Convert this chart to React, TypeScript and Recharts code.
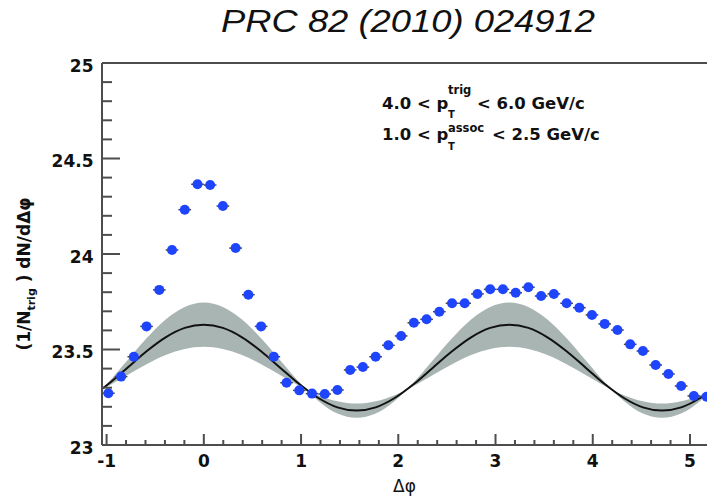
import { ComposedChart, Line, Area, Scatter, ErrorBar, XAxis, YAxis, ReferenceLine } from "recharts"

// Δφ bin centres (48 bins over 2π starting at -π/3)
const binCenters = [
  -0.982, -0.851, -0.72, -0.589, -0.458, -0.327, -0.196, -0.065, 0.065, 0.196, 0.327, 0.458,
  0.589, 0.72, 0.851, 0.982, 1.113, 1.244, 1.374, 1.505, 1.636, 1.767, 1.898, 2.029,
  2.16, 2.291, 2.422, 2.553, 2.683, 2.814, 2.945, 3.076, 3.207, 3.338, 3.469, 3.6,
  3.731, 3.862, 3.992, 4.123, 4.254, 4.385, 4.516, 4.647, 4.778, 4.909, 5.04, 5.171,
]
// per-trigger pair yield
const pairYield = [
  23.271, 23.358, 23.462, 23.621, 23.812, 24.021, 24.232, 24.365, 24.361, 24.251, 24.031, 23.787,
  23.621, 23.462, 23.326, 23.286, 23.269, 23.267, 23.288, 23.393, 23.408, 23.462, 23.522, 23.571,
  23.64, 23.658, 23.698, 23.742, 23.742, 23.791, 23.815, 23.815, 23.797, 23.826, 23.78, 23.791,
  23.742, 23.719, 23.681, 23.634, 23.602, 23.527, 23.492, 23.419, 23.372, 23.309, 23.257, 23.253,
]
const binHalfWidth = 0.065

// flow background curve and its systematic band
const modelPhi = [
  -1.178, -0.982, -0.785, -0.589, -0.393, -0.196, 0, 0.196, 0.393, 0.589, 0.785, 0.982,
  1.178, 1.374, 1.571, 1.767, 1.963, 2.16, 2.356, 2.553, 2.749, 2.945, 3.142, 3.338,
  3.534, 3.731, 3.927, 4.123, 4.32, 4.516, 4.712, 4.909, 5.105, 5.301,
]
const modelCurve = [
  23.246, 23.319, 23.405, 23.491, 23.564, 23.613, 23.63, 23.613, 23.564, 23.491, 23.405, 23.319,
  23.246, 23.197, 23.18, 23.197, 23.246, 23.319, 23.405, 23.491, 23.564, 23.613, 23.63, 23.613,
  23.564, 23.491, 23.405, 23.319, 23.246, 23.197, 23.18, 23.197, 23.246, 23.319,
]
const bandLow = [
  23.261, 23.309, 23.366, 23.423, 23.471, 23.503, 23.514, 23.503, 23.471, 23.423, 23.366, 23.309,
  23.261, 23.229, 23.217, 23.229, 23.261, 23.309, 23.366, 23.423, 23.471, 23.503, 23.514, 23.503,
  23.471, 23.423, 23.366, 23.309, 23.261, 23.229, 23.217, 23.229, 23.261, 23.309,
]
const bandHigh = [
  23.231, 23.329, 23.444, 23.559, 23.657, 23.723, 23.746, 23.723, 23.657, 23.559, 23.444, 23.329,
  23.231, 23.165, 23.143, 23.165, 23.231, 23.329, 23.444, 23.559, 23.657, 23.723, 23.746, 23.723,
  23.657, 23.559, 23.444, 23.329, 23.231, 23.165, 23.143, 23.165, 23.231, 23.329,
]

const xTicks = [
  -1, -0.8, -0.6, -0.4, -0.2, 0, 0.2, 0.4, 0.6, 0.8, 1, 1.2, 1.4, 1.6, 1.8, 2, 2.2, 2.4, 2.6, 2.8,
  3, 3.2, 3.4, 3.6, 3.8, 4, 4.2, 4.4, 4.6, 4.8, 5,
]
const yTicks = [
  23, 23.1, 23.2, 23.3, 23.4, 23.5, 23.6, 23.7, 23.8, 23.9, 24, 24.1, 24.2, 24.3, 24.4, 24.5,
  24.6, 24.7, 24.8, 24.9, 25,
]

const points = binCenters.map((x, i) => ({ x, y: pairYield[i], xErr: binHalfWidth }))
const model = modelPhi.map((x, i) => ({ x, c: modelCurve[i], band: [bandLow[i], bandHigh[i]] }))

const FONT = "'DejaVu Sans', sans-serif"
const AXIS = "#4d4d4d"

function YTick(props: any) {
  const { x, y, payload } = props
  const v = payload.value
  const major = Math.abs(v * 2 - Math.round(v * 2)) < 1e-6
  return (
    <g>
      <line x1={x} x2={x + (major ? 18 : 10)} y1={y} y2={y} stroke={AXIS} strokeWidth={2} />
      {major && (
        <text x={x - 8.5} y={y + 8.5} textAnchor="end" fontFamily={FONT} fontWeight="bold" fontSize={17} fill="#111">
          {String(v)}
        </text>
      )}
    </g>
  )
}

function XTick(props: any) {
  const { x, y, payload } = props
  const v = payload.value
  const major = Math.abs(v - Math.round(v)) < 1e-6
  return (
    <g>
      <line x1={x} x2={x} y1={y} y2={y - (major ? 11 : 5)} stroke={AXIS} strokeWidth={2} />
      {major && (
        <text x={x} y={y + 22} textAnchor="middle" fontFamily={FONT} fontWeight="bold" fontSize={17} fill="#111">
          {String(Math.round(v))}
        </text>
      )}
    </g>
  )
}

function Dot(props: any) {
  return <circle cx={props.cx} cy={props.cy} r={5} fill="#1f45fc" />
}

export default function App() {
  return (
    <div style={{ position: "absolute", left: 0, top: 0, width: 707, height: 497, background: "#fff" }}>
      <ComposedChart width={707} height={497} margin={{ top: 63, right: 0, bottom: 22, left: 42 }}>
        <XAxis
          type="number"
          dataKey="x"
          domain={[-1.0472, 5.175]}
          ticks={xTicks}
          interval={0}
          allowDataOverflow
          height={30}
          tickSize={0}
          tickMargin={0}
          tickLine={false}
          axisLine={{ stroke: AXIS, strokeWidth: 2 }}
          tick={(p: any) => <XTick {...p} />}
        />
        <YAxis
          type="number"
          dataKey="y"
          domain={[23, 25]}
          ticks={yTicks}
          interval={0}
          width={60}
          tickSize={0}
          tickMargin={0}
          tickLine={false}
          axisLine={{ stroke: AXIS, strokeWidth: 2 }}
          tick={(p: any) => <YTick {...p} />}
        />
        <ReferenceLine y={25} stroke={AXIS} strokeWidth={2} />
        <Area
          data={model}
          dataKey="band"
          type="monotone"
          stroke="none"
          fill="#a8b5b3"
          fillOpacity={1}
          isAnimationActive={false}
        />
        <Line
          data={model}
          dataKey="c"
          type="monotone"
          stroke="#111"
          strokeWidth={2}
          dot={false}
          isAnimationActive={false}
        />
        <Scatter data={points} dataKey="y" shape={(p: any) => <Dot {...p} />} isAnimationActive={false}>
          <ErrorBar dataKey="xErr" direction="x" width={0} stroke="#444" strokeWidth={1.5} />
        </Scatter>
      </ComposedChart>
      <svg
        width={707}
        height={497}
        style={{ position: "absolute", left: 0, top: 0, pointerEvents: "none" }}
      >
        <text
          x={221}
          y={32}
          fontFamily="'Liberation Sans', Arial, sans-serif"
          fontStyle="italic"
          fontSize={31}
          textLength={374}
          lengthAdjust="spacingAndGlyphs"
          fill="#111"
        >
          PRC 82 (2010) 024912
        </text>
        <g fontFamily={FONT} fontWeight="bold" fill="#111">
          <text x={382} y={109} fontSize={16.5}>4.0 &lt; p</text>
          <text x={448} y={118} fontSize={10}>T</text>
          <text x={448} y={94} fontSize={11.5}>trig</text>
          <text x={477} y={109} fontSize={16.5}>&lt; 6.0 GeV/c</text>
          <text x={382} y={140} fontSize={16.5}>1.0 &lt; p</text>
          <text x={448} y={150} fontSize={10}>T</text>
          <text x={448} y={132} fontSize={11.5}>assoc</text>
          <text x={492} y={140} fontSize={16.5}>&lt; 2.5 GeV/c</text>
        </g>
        <text x={404.5} y={492} textAnchor="middle" fontFamily={FONT} fontSize={17} fill="#111">
          Δφ
        </text>
        <text
          x={30}
          y={274}
          transform="rotate(-90 30 274)"
          textAnchor="middle"
          fontFamily={FONT}
          fontWeight="bold"
          fontSize={17}
          fill="#111"
        >
          (1/N<tspan dy={5} fontSize={11}>trig</tspan>
          <tspan dy={-5}> ) dN/dΔφ</tspan>
        </text>
      </svg>
    </div>
  )
}
